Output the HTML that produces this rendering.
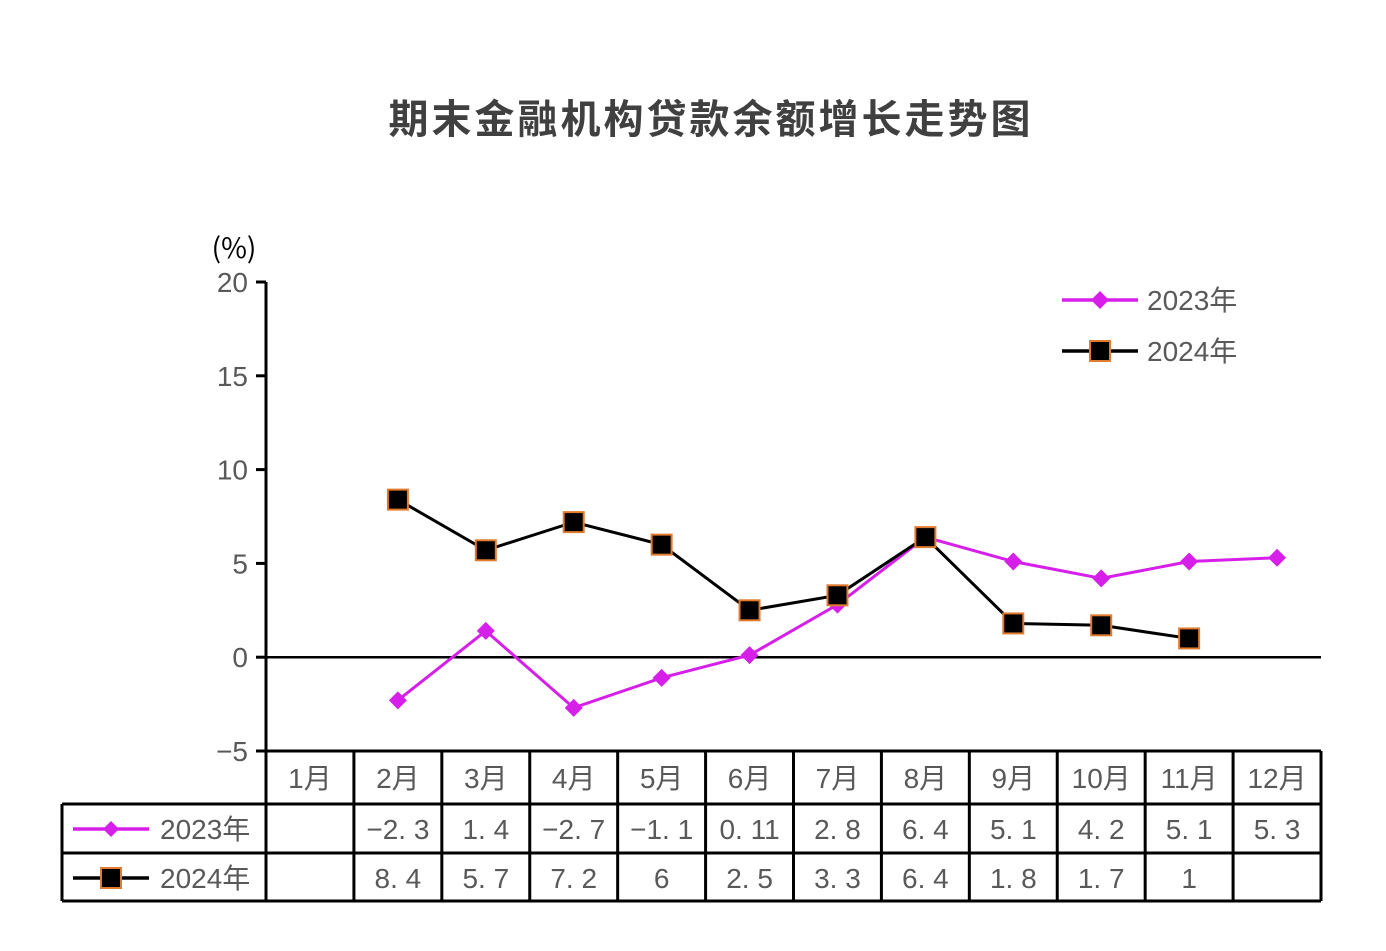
<!DOCTYPE html>
<html><head><meta charset="utf-8"><style>
body{margin:0;background:#fff}
svg text{font-family:"Liberation Sans","Noto Sans CJK SC",sans-serif}
</style></head><body>
<svg id="c" width="1386" height="946" xmlns="http://www.w3.org/2000/svg">
<text x="711" y="133" text-anchor="middle" font-size="40" font-weight="bold" fill="#404040" letter-spacing="3" style="font-family:'Noto Sans CJK SC',sans-serif">期末金融机构贷款余额增长走势图</text>
<text x="234" y="258" text-anchor="middle" font-size="28" fill="#000" style="font-family:'Noto Sans CJK SC',sans-serif">(%)</text>
<g id="plot"></g>
</svg>
<script>
const months=["1月","2月","3月","4月","5月","6月","7月","8月","9月","10月","11月","12月"];
const s2023=[null,-2.3,1.4,-2.7,-1.1,0.11,2.8,6.4,5.1,4.2,5.1,5.3];
const s2024=[null,8.4,5.7,7.2,6,2.5,3.3,6.4,1.8,1.7,1,null];
const l2023=["","−2. 3","1. 4","−2. 7","−1. 1","0. 11","2. 8","6. 4","5. 1","4. 2","5. 1","5. 3"];
const l2024=["","8. 4","5. 7","7. 2","6","2. 5","3. 3","6. 4","1. 8","1. 7","1",""];
const yTicks=[20,15,10,5,0,-5];
const X0=266,X1=1321,Y0=282,Y1=751,ymin=-5,ymax=20;
const cw=(X1-X0)/months.length;
const xs=i=>X0+cw*(i+0.5);
const ys=v=>Y1-(v-ymin)/(ymax-ymin)*(Y1-Y0);
const g=document.getElementById('plot');
const NS="http://www.w3.org/2000/svg";
function mk(t,a,p){const e=document.createElementNS(NS,t);for(const k in a)e.setAttribute(k,a[k]);(p||g).appendChild(e);return e;}
// axis
let ax=mk('line',{x1:X0,y1:Y0,x2:X0,y2:Y1,stroke:'#000','stroke-width':3});


let zl=mk('line',{x1:X0,y1:ys(0),x2:X1,y2:ys(0),stroke:'#000','stroke-width':2.5});


yTicks.forEach(v=>{
 let t=mk('line',{x1:X0-10,y1:ys(v),x2:X0,y2:ys(v),stroke:'#000','stroke-width':3});
 
 
 let tx=mk('text',{x:X0-18,y:ys(v)+10,'text-anchor':'end','font-size':28,fill:'#595959'});
 tx.textContent=v<0?'−'+Math.abs(v):String(v);
 
 
});
// table
const R=[751,804,853,901];
function ln(x1,y1,x2,y2,n){let l=mk('line',{x1,y1,x2,y2,stroke:'#000','stroke-width':3});}
ln(X0,R[0],X1,R[0],'table-line');
ln(62,R[1],X1,R[1],'table-line');
ln(62,R[2],X1,R[2],'table-line');
ln(62,R[3],X1,R[3],'table-line');
ln(62,R[1],62,R[3],'table-line');
for(let i=0;i<=months.length;i++)ln(X0+cw*i,R[0],X0+cw*i,R[3],'table-line');
months.forEach((m,i)=>{
 let t=mk('text',{x:xs(i),y:788,'text-anchor':'middle','font-size':28,fill:'#595959'});
 t.textContent=m;
 
 
 let a=mk('text',{x:xs(i),y:839,'text-anchor':'middle','font-size':28,fill:'#595959'});
 a.textContent=l2023[i];
 
 
 let b=mk('text',{x:xs(i),y:888,'text-anchor':'middle','font-size':28,fill:'#595959'});
 b.textContent=l2024[i];
 
 
});
function diamond(cx,cy,r,p){let d=mk('path',{d:`M${cx} ${cy-r}L${cx+r} ${cy}L${cx} ${cy+r}L${cx-r} ${cy}Z`,fill:'#d61fe8'},p);return d;}
function square(cx,cy,p){return mk('rect',{x:cx-10,y:cy-10,width:20,height:20,fill:'#000',stroke:'#e07b30','stroke-width':2},p);}
function series(arr,color,name,marker){
 let pts=arr.map((v,i)=>v==null?null:[xs(i),ys(v)]).filter(p=>p);
 let pl=mk('polyline',{points:pts.map(p=>p.join(',')).join(' '),fill:'none',stroke:color,'stroke-width':3});
 
 
 pts.forEach(p=>{let m=marker(p[0],p[1]);});
}
series(s2023,'#d61fe8','series-2023',(x,y)=>diamond(x,y,9));
series(s2024,'#000','series-2024',(x,y)=>square(x,y));
// legends
function leg(x1,x2,y,tx,lab,color,marker,name,fs){
 let l=mk('line',{x1,y1:y,x2,y2:y,stroke:color,'stroke-width':3.5});
 
 
 let m=marker((x1+x2)/2,y);
 
 
 let t=mk('text',{x:tx,y:y+10,'font-size':fs,fill:'#595959'});
 t.textContent=lab;
 
 
}
leg(1062,1138,300,1147,'2023年','#d61fe8',(x,y)=>diamond(x,y,9),'legend-2023',28);
leg(1062,1138,351,1147,'2024年','#000',(x,y)=>square(x,y),'legend-2024',28);
leg(73,149,829,160,'2023年','#d61fe8',(x,y)=>diamond(x,y,8),'table-legend-2023',28);
leg(73,149,878,160,'2024年','#000',(x,y)=>square(x,y),'table-legend-2024',28);
</script>
</body></html>
